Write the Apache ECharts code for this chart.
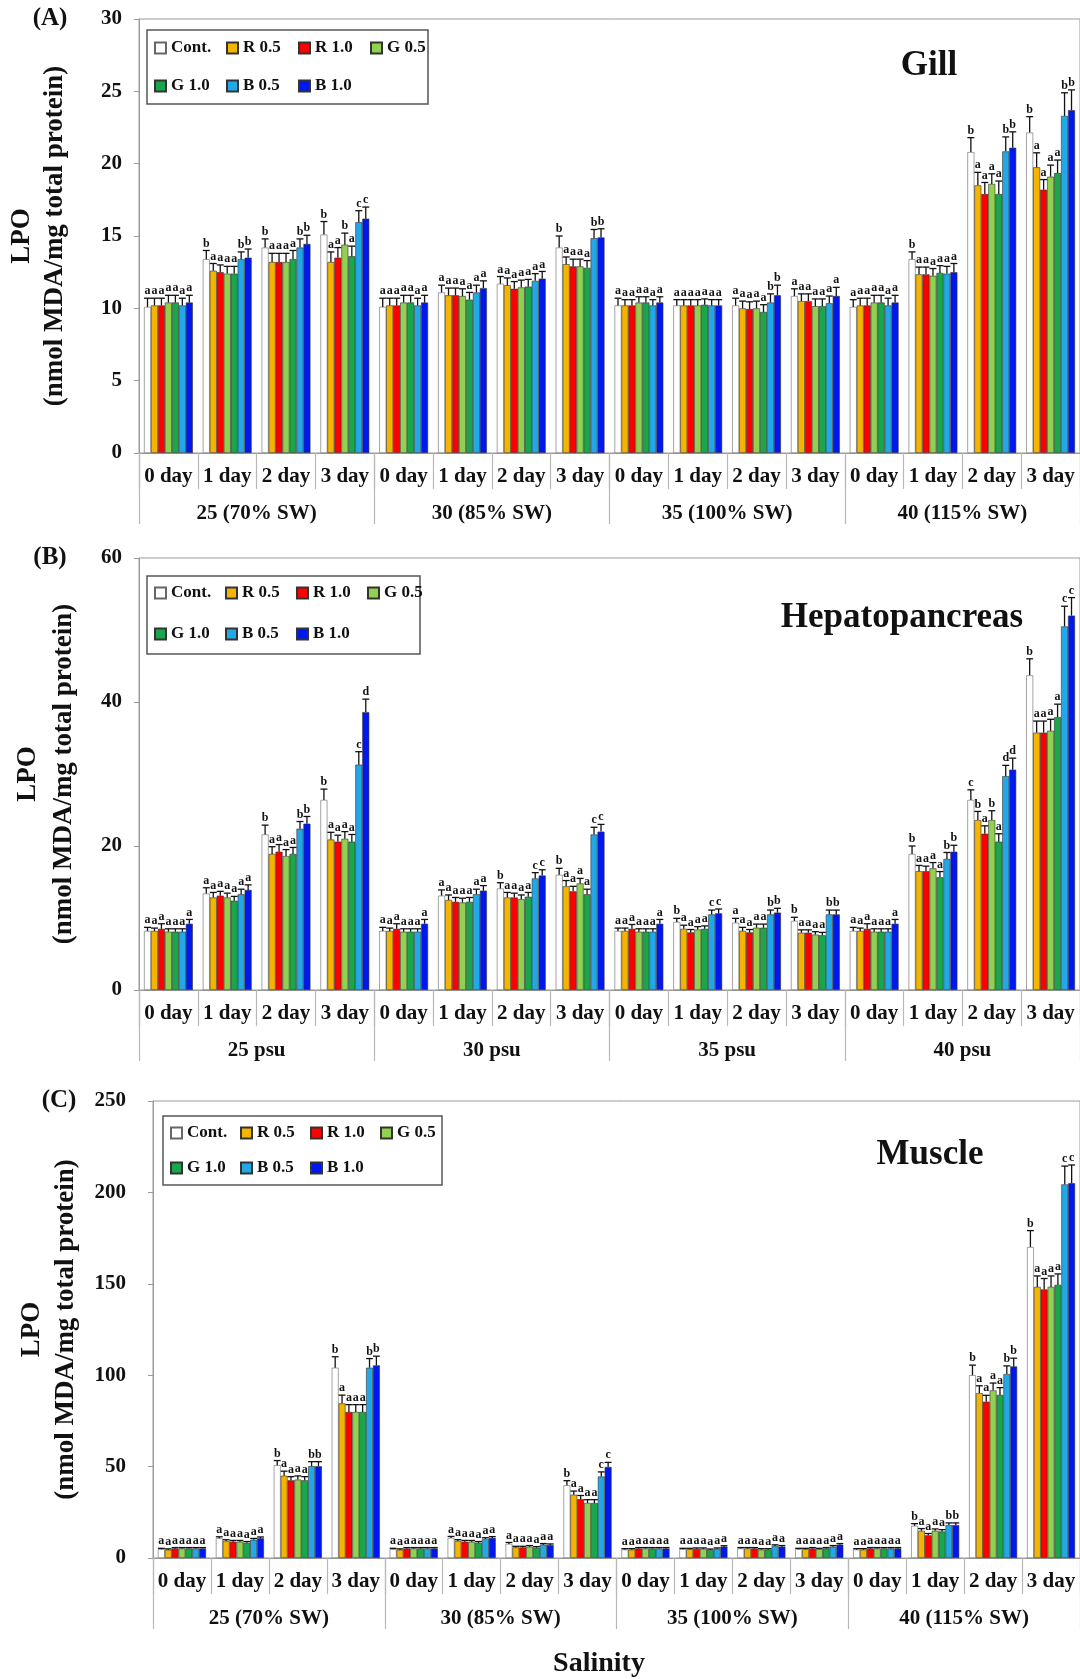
<!DOCTYPE html>
<html>
<head>
<meta charset="utf-8">
<title>LPO by salinity and light treatment</title>
<script src="https://cdn.jsdelivr.net/npm/echarts/dist/echarts.min.js"></script>
<style>
  html, body { margin: 0; padding: 0; background: #ffffff; }
  #chart { width: 1080px; height: 1679px; }
</style>
</head>
<body>
<div id="chart"></div>
<script>
// ---------- categories ----------
const days = ['0 day', '1 day', '2 day', '3 day'];
const salinitySW = ['25 (70% SW)', '30 (85% SW)', '35 (100% SW)', '40 (115% SW)'];
const salinityPsu = ['25 psu', '30 psu', '35 psu', '40 psu'];
const treatments = ['Cont.', 'R 0.5', 'R 1.0', 'G 0.5', 'G 1.0', 'B 0.5', 'B 1.0'];
const treatmentColors = ['#ffffff', '#f5b400', '#ff0000', '#92d050', '#1aa64a', '#22a8e6', '#0018f0'];

// ---------- (A) Gill, nmol MDA/mg protein; 16 groups = 4 salinities x 4 days ----------
const gillCont = [10.1, 13.4, 14.2, 15.1, 10.1, 11.1, 11.7, 14.2, 10.2, 10.2, 10.2, 10.85, 10.1, 13.4, 20.8, 22.15];
const gillR05  = [10.2, 12.6, 13.2, 13.2, 10.2, 10.9, 11.6, 13.05, 10.2, 10.2, 10.0, 10.5, 10.2, 12.35, 18.5, 19.75];
const gillR10  = [10.2, 12.5, 13.2, 13.5, 10.2, 10.9, 11.35, 12.9, 10.2, 10.2, 9.95, 10.5, 10.2, 12.35, 17.9, 18.2];
const gillG05  = [10.4, 12.4, 13.2, 14.4, 10.4, 10.85, 11.45, 12.9, 10.4, 10.2, 10.0, 10.15, 10.4, 12.25, 18.6, 19.1];
const gillG10  = [10.4, 12.4, 13.4, 13.6, 10.4, 10.6, 11.5, 12.8, 10.4, 10.25, 9.75, 10.15, 10.4, 12.45, 17.9, 19.35];
const gillB05  = [10.2, 13.4, 14.2, 15.95, 10.2, 11.1, 11.9, 14.85, 10.2, 10.2, 10.4, 10.35, 10.2, 12.4, 20.85, 23.3];
const gillB10  = [10.4, 13.5, 14.45, 16.2, 10.4, 11.4, 12.05, 14.9, 10.4, 10.2, 10.9, 10.85, 10.4, 12.5, 21.1, 23.7];

const gillErrCont = [0.6, 0.6, 0.6, 0.9, 0.6, 0.5, 0.5, 0.8, 0.5, 0.4, 0.5, 0.5, 0.5, 0.5, 1.0, 1.1];
const gillErrR05  = [0.5, 0.5, 0.6, 0.7, 0.5, 0.5, 0.5, 0.5, 0.4, 0.4, 0.5, 0.5, 0.5, 0.5, 0.9, 1.0];
const gillErrR10  = [0.5, 0.5, 0.6, 0.7, 0.5, 0.5, 0.5, 0.5, 0.4, 0.4, 0.5, 0.5, 0.5, 0.5, 0.8, 0.7];
const gillErrG05  = [0.5, 0.5, 0.6, 0.8, 0.5, 0.5, 0.5, 0.5, 0.4, 0.4, 0.5, 0.5, 0.5, 0.5, 0.7, 0.8];
const gillErrG10  = [0.5, 0.5, 0.6, 0.7, 0.5, 0.5, 0.5, 0.5, 0.4, 0.4, 0.5, 0.5, 0.5, 0.5, 0.9, 0.9];
const gillErrB05  = [0.5, 0.5, 0.6, 0.8, 0.5, 0.5, 0.5, 0.6, 0.4, 0.4, 0.6, 0.5, 0.5, 0.5, 1.0, 1.6];
const gillErrB10  = [0.5, 0.6, 0.6, 0.8, 0.5, 0.5, 0.5, 0.6, 0.4, 0.4, 0.7, 0.6, 0.5, 0.6, 1.1, 1.4];

// significance letters, one string per group, one letter per treatment
const gillLetters = ['aaaaaaa', 'baaaabb', 'baaaabb', 'baabacc', 'aaaaaaa', 'aaaaaaa', 'aaaaaaa', 'baaaabb',
                     'aaaaaaa', 'aaaaaaa', 'aaaaabb', 'aaaaaaa', 'aaaaaaa', 'baaaaaa', 'baaaabb', 'baaaabb'];

// ---------- (B) Hepatopancreas ----------
const hepCont = [8.2, 13.4, 21.6, 26.4, 8.2, 13.1, 14.1, 16.0, 8.2, 9.45, 9.35, 9.6, 8.2, 18.9, 26.4, 43.7];
const hepR05  = [8.2, 12.85, 18.9, 20.9, 8.2, 12.5, 12.85, 14.4, 8.2, 8.5, 8.2, 7.95, 8.2, 16.5, 23.6, 35.75];
const hepR10  = [8.5, 13.1, 19.2, 20.6, 8.5, 12.25, 12.85, 13.7, 8.5, 8.0, 8.0, 7.95, 8.5, 16.5, 21.7, 35.75];
const hepG05  = [8.1, 12.85, 18.6, 21.0, 8.1, 12.15, 12.6, 14.8, 8.1, 8.4, 8.65, 7.7, 8.1, 16.9, 23.6, 36.0];
const hepG10  = [8.1, 12.4, 18.9, 20.6, 8.1, 12.25, 12.95, 13.3, 8.1, 8.5, 8.65, 7.6, 8.1, 15.65, 20.6, 37.9];
const hepB05  = [8.1, 13.3, 22.4, 31.3, 8.1, 13.3, 15.5, 21.6, 8.1, 10.5, 10.5, 10.5, 8.1, 18.2, 29.7, 50.5];
const hepB10  = [9.2, 13.9, 23.1, 38.6, 9.2, 13.8, 15.9, 22.0, 9.2, 10.65, 10.75, 10.5, 9.2, 19.2, 30.6, 52.0];

const hepErrCont = [0.5, 0.8, 1.3, 1.5, 0.5, 0.8, 0.8, 0.9, 0.4, 0.5, 0.6, 0.5, 0.5, 1.1, 1.4, 2.3];
const hepErrR05  = [0.4, 0.7, 1.0, 1.0, 0.4, 0.7, 0.7, 0.8, 0.4, 0.5, 0.5, 0.4, 0.4, 0.8, 1.2, 1.6];
const hepErrR10  = [0.7, 0.6, 1.0, 0.9, 0.7, 0.6, 0.6, 0.7, 0.6, 0.4, 0.4, 0.4, 0.7, 0.7, 1.1, 1.6];
const hepErrG05  = [0.4, 0.6, 0.9, 1.0, 0.4, 0.6, 0.6, 0.7, 0.4, 0.4, 0.5, 0.4, 0.4, 0.8, 1.3, 1.6];
const hepErrG10  = [0.4, 0.6, 0.9, 1.0, 0.4, 0.6, 0.6, 0.7, 0.4, 0.4, 0.5, 0.4, 0.4, 0.8, 1.1, 1.8];
const hepErrB05  = [0.4, 0.7, 1.0, 1.8, 0.4, 0.7, 0.8, 1.0, 0.4, 0.6, 0.6, 0.6, 0.4, 0.9, 1.5, 2.8];
const hepErrB10  = [0.6, 0.7, 1.0, 1.8, 0.6, 0.7, 0.8, 1.0, 0.6, 0.6, 0.6, 0.6, 0.6, 0.9, 1.6, 2.5];

const hepLetters = ['aaaaaaa', 'aaaaaaa', 'baaaabb', 'baaaacd', 'aaaaaaa', 'aaaaaaa', 'baaaacc', 'baaaacc',
                    'aaaaaaa', 'baaaacc', 'aaaaabb', 'baaaabb', 'aaaaaaa', 'baaaabb', 'cbabadd', 'baaaacc'];

// ---------- (C) Muscle ----------
const musCont = [4.8, 10.8, 50.8, 104.1, 4.8, 11.0, 7.7, 39.8, 4.6, 4.8, 5.2, 4.8, 4.6, 17.6, 100.0, 170.1];
const musR05  = [4.5, 9.3, 45.0, 84.6, 4.5, 9.3, 5.8, 34.6, 4.6, 4.8, 5.2, 4.8, 4.6, 14.9, 90.2, 148.3];
const musR10  = [5.2, 8.9, 42.5, 79.9, 5.2, 8.9, 5.8, 32.2, 5.2, 5.0, 5.2, 5.2, 5.2, 12.4, 85.5, 146.9];
const musG05  = [5.2, 8.9, 42.9, 79.9, 5.2, 8.9, 6.2, 30.1, 5.2, 5.0, 4.6, 4.8, 5.2, 14.9, 91.7, 148.3];
const musG10  = [5.2, 8.3, 42.5, 79.9, 5.2, 8.3, 5.6, 30.1, 5.2, 4.4, 4.6, 5.2, 5.2, 14.5, 89.2, 149.4];
const musB05  = [5.2, 10.0, 50.2, 104.1, 5.2, 10.4, 7.3, 44.6, 5.2, 5.0, 6.6, 6.2, 5.2, 18.0, 100.6, 204.4];
const musB10  = [5.2, 10.8, 50.2, 105.4, 5.2, 11.0, 7.1, 49.8, 5.2, 6.2, 6.2, 7.3, 5.2, 18.0, 104.8, 205.0];

const musErrCont = [0.5, 0.8, 2.5, 6.0, 0.5, 0.8, 0.8, 2.5, 0.5, 0.5, 0.5, 0.5, 0.5, 1.2, 5.5, 9.0];
const musErrR05  = [0.5, 0.7, 2.5, 4.5, 0.5, 0.7, 0.6, 2.0, 0.5, 0.5, 0.5, 0.5, 0.5, 1.2, 4.0, 6.0];
const musErrR10  = [0.5, 0.7, 2.0, 4.0, 0.5, 0.7, 0.6, 2.0, 0.5, 0.5, 0.5, 0.5, 0.5, 1.0, 3.5, 6.0];
const musErrG05  = [0.5, 0.7, 2.0, 4.0, 0.5, 0.7, 0.6, 1.8, 0.5, 0.5, 0.5, 0.5, 0.5, 1.0, 4.0, 6.0];
const musErrG10  = [0.5, 0.7, 2.0, 4.0, 0.5, 0.7, 0.6, 1.8, 0.5, 0.5, 0.5, 0.5, 0.5, 1.0, 4.0, 6.0];
const musErrB05  = [0.5, 0.7, 2.5, 5.0, 0.5, 0.7, 0.6, 2.5, 0.5, 0.5, 0.6, 0.6, 0.5, 1.2, 4.5, 10.0];
const musErrB10  = [0.5, 0.7, 2.5, 5.0, 0.5, 0.7, 0.6, 2.5, 0.5, 0.5, 0.6, 0.6, 0.5, 1.2, 4.5, 10.0];

const musLetters = ['aaaaaaa', 'aaaaaaa', 'baaaabb', 'baaaabb', 'aaaaaaa', 'aaaaaaa', 'aaaaaaa', 'baaaacc',
                    'aaaaaaa', 'aaaaaaa', 'aaaaaaa', 'aaaaaaa', 'aaaaaaa', 'baaaabb', 'baaaabb', 'baaaacc'];

// y-axis scales
const gillTicks = { max: 30, step: 5 };
const hepTicks = { max: 60, step: 20 };
const musTicks = { max: 250, step: 50 };

// ---------- layout ----------
const FONT = '"Liberation Serif", "Times New Roman", serif';
const CAT_GAP = 0.17;

const panels = [
  {
    tag: '(A)', title: 'Gill', groups: salinitySW, ticks: gillTicks, letters: gillLetters,
    values: [gillCont, gillR05, gillR10, gillG05, gillG10, gillB05, gillB10],
    errors: [gillErrCont, gillErrR05, gillErrR10, gillErrG05, gillErrG10, gillErrB05, gillErrB10],
    grid: { left: 139, top: 19, width: 946, height: 434 }, nameGap: 67, labelMargin: 17, nameLH: 33,
    tagPos: [50, 19], titlePos: [929, 66],
    box: [147, 30, 281, 74], legendLeft: 154, rows: [48, 86], colW: 51
  },
  {
    tag: '(B)', title: 'Hepatopancreas', groups: salinityPsu, ticks: hepTicks, letters: hepLetters,
    values: [hepCont, hepR05, hepR10, hepG05, hepG10, hepB05, hepB10],
    errors: [hepErrCont, hepErrR05, hepErrR10, hepErrG05, hepErrG10, hepErrB05, hepErrB10],
    grid: { left: 139, top: 558, width: 946, height: 432 }, nameGap: 57, labelMargin: 17, nameLH: 36,
    tagPos: [50, 558], titlePos: [902, 618],
    box: [147, 576, 273, 78], legendLeft: 154, rows: [593, 634], colW: 50
  },
  {
    tag: '(C)', title: 'Muscle', groups: salinitySW, ticks: musTicks, letters: musLetters,
    values: [musCont, musR05, musR10, musG05, musG10, musB05, musB10],
    errors: [musErrCont, musErrR05, musErrR10, musErrG05, musErrG10, musErrB05, musErrB10],
    grid: { left: 153, top: 1101, width: 932, height: 457 }, nameGap: 70, labelMargin: 27, nameLH: 34,
    tagPos: [59, 1101], titlePos: [930, 1155],
    box: [163, 1116, 279, 69], legendLeft: 170, rows: [1133, 1168], colW: 49
  }
];

const boldText = { fontFamily: FONT, fontWeight: 'bold', color: '#111' };

const grids = [], xAxes = [], yAxes = [], series = [], legends = [], graphics = [];

panels.forEach((p, pi) => {
  grids.push(Object.assign({ show: true, borderColor: '#9a9a9a', borderWidth: 1, backgroundColor: 'transparent' }, p.grid));

  // one category per (salinity, day) pair
  const categories = [];
  p.groups.forEach(g => days.forEach(d => categories.push(g + '|' + d)));

  // day row: ticks between days act as short separators
  xAxes.push({
    gridIndex: pi, type: 'category', data: categories, position: 'bottom',
    axisLine: { show: true, lineStyle: { color: '#9a9a9a', width: 1 } },
    axisTick: { show: true, interval: 0, length: 36, lineStyle: { color: '#b8b8b8', width: 1.2 } },
    axisLabel: Object.assign({ interval: 0, margin: 13, fontSize: 21, formatter: v => v.split('|')[1] }, boldText),
    splitLine: { show: false }
  });
  // salinity row: longer ticks separate the four salinity groups
  xAxes.push({
    gridIndex: pi, type: 'category', data: p.groups, position: 'bottom',
    axisLine: { show: false },
    axisTick: { show: true, interval: 0, length: 71, lineStyle: { color: '#b8b8b8', width: 1.2 } },
    axisLabel: Object.assign({ interval: 0, margin: 50, fontSize: 21 }, boldText),
    splitLine: { show: false }
  });

  yAxes.push({
    gridIndex: pi, type: 'value', min: 0, max: p.ticks.max, interval: p.ticks.step,
    axisLine: { show: true, lineStyle: { color: '#9a9a9a' } },
    axisTick: { show: true, length: 5, lineStyle: { color: '#9a9a9a' } },
    axisLabel: Object.assign({ fontSize: 21, margin: p.labelMargin }, boldText),
    splitLine: { show: false },
    name: '{a|LPO}\n{b|(nmol MDA/mg total protein)}',
    nameLocation: 'middle', nameGap: p.nameGap,
    nameTextStyle: {
      rich: {
        a: Object.assign({ fontSize: 27, lineHeight: p.nameLH }, boldText),
        b: Object.assign({ fontSize: 27, lineHeight: p.nameLH }, boldText)
      }
    }
  });

  const xIdx = pi * 2;
  treatments.forEach((name, ti) => {
    series.push({
      type: 'bar', name: name, xAxisIndex: xIdx, yAxisIndex: pi,
      data: p.values[ti], barGap: '0%', barCategoryGap: (CAT_GAP * 100) + '%',
      itemStyle: { color: treatmentColors[ti], borderColor: ti === 0 ? '#666' : '#333', borderWidth: 0.6 },
      silent: true
    });
  });

  // error bars (upper half) with significance letters above each cap
  treatments.forEach((name, ti) => {
    const errs = p.errors[ti];
    series.push({
      type: 'custom', name: name + ' SE', xAxisIndex: xIdx, yAxisIndex: pi,
      silent: true, z: 3,
      data: p.values[ti].map((v, i) => [i, v, errs[i]]),
      encode: { x: 0, y: 1 },
      renderItem: function (params, api) {
        const xi = api.value(0), v = api.value(1), e = api.value(2);
        const base = api.coord([xi, v]);
        const top = api.coord([xi, v + e]);
        const band = api.size([1, 0])[0];
        const groupW = band * (1 - CAT_GAP);
        const bw = groupW / treatments.length;
        const cx = base[0] - groupW / 2 + bw * (ti + 0.5);
        const half = bw * 0.5;
        const letter = p.letters[params.dataIndex].charAt(ti);
        const stroke = { stroke: '#111', lineWidth: 1.3 };
        return {
          type: 'group',
          children: [
            { type: 'line', shape: { x1: cx, y1: base[1], x2: cx, y2: top[1] }, style: stroke },
            { type: 'line', shape: { x1: cx - half, y1: top[1], x2: cx + half, y2: top[1] }, style: stroke },
            {
              type: 'text', x: cx, y: top[1] - 1,
              style: { text: letter, textAlign: 'center', textVerticalAlign: 'bottom',
                       font: 'bold 12px ' + FONT, fill: '#111' }
            }
          ]
        };
      }
    });
  });

  // legend in two rows inside a framed box
  [treatments.slice(0, 4), treatments.slice(4)].forEach((rowNames, ri) => {
    legends.push({
      data: rowNames, orient: 'horizontal', left: p.legendLeft, top: p.rows[ri] - 9,
      padding: 0, itemGap: 5, itemWidth: 11, itemHeight: 11, icon: 'rect',
      selectedMode: false,
      textStyle: Object.assign({ fontSize: 17, lineHeight: 18, width: p.colW - 1 }, boldText)
    });
  });

  graphics.push({
    type: 'rect', z: 3,
    shape: { x: p.box[0], y: p.box[1], width: p.box[2], height: p.box[3] },
    style: { fill: '#ffffff', stroke: '#555', lineWidth: 1.5 }
  });
  graphics.push({
    type: 'text', x: p.tagPos[0], y: p.tagPos[1], z: 5,
    style: { text: p.tag, textAlign: 'center', textVerticalAlign: 'middle', font: 'bold 25px ' + FONT, fill: '#111' }
  });
  graphics.push({
    type: 'text', x: p.titlePos[0], y: p.titlePos[1], z: 5,
    style: { text: p.title, textAlign: 'center', textVerticalAlign: 'middle', font: 'bold 35px ' + FONT, fill: '#111' }
  });
});

graphics.push({
  type: 'text', x: 599, y: 1664, z: 5,
  style: { text: 'Salinity', textAlign: 'center', textVerticalAlign: 'middle', font: 'bold 28px ' + FONT, fill: '#111' }
});

const chart = echarts.init(document.getElementById('chart'), null, { renderer: 'canvas' });
chart.setOption({
  backgroundColor: '#ffffff',
  animation: false,
  grid: grids,
  xAxis: xAxes,
  yAxis: yAxes,
  legend: legends,
  series: series,
  graphic: { elements: graphics }
});
</script>
</body>
</html>
